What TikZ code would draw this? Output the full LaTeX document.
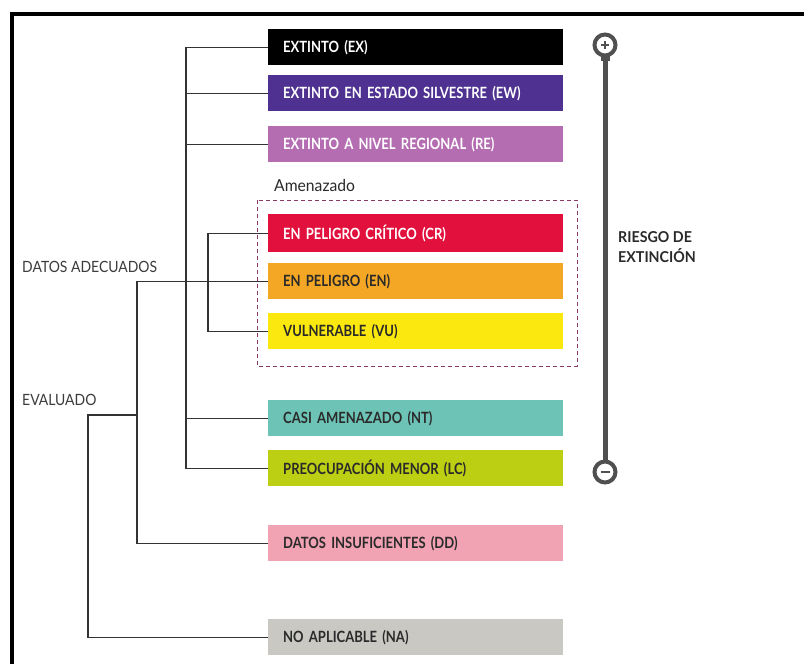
\documentclass[tikz,border=0pt]{standalone}
\usepackage{fontspec}
\setmainfont{Lato}
\newfontfamily\boxfont[FakeStretch=0.84]{Lato Bold}
\newfontfamily\rbfont[FakeStretch=0.95]{Lato Bold}
\newfontfamily\lblfont[FakeStretch=0.9]{Lato}
\newfontfamily\amfont[FakeStretch=0.95]{Lato}
\newcommand\catfontsel{\boxfont\fontsize{15.5}{17}\selectfont\spaceskip=2.6pt plus 1pt minus 1pt\relax}
\definecolor{cEX}{HTML}{000000}
\definecolor{cEW}{HTML}{4E3190}
\definecolor{cRE}{HTML}{B56DB2}
\definecolor{cCR}{HTML}{E2103C}
\definecolor{cEN}{HTML}{F3A724}
\definecolor{cVU}{HTML}{FAE80E}
\definecolor{cNT}{HTML}{6DC4B6}
\definecolor{cLC}{HTML}{BDCF12}
\definecolor{cDD}{HTML}{F2A3B3}
\definecolor{cNA}{HTML}{C9C8C3}
\definecolor{darktxt}{HTML}{2A2A2A}
\definecolor{lbltxt}{HTML}{3C3C3C}
\definecolor{linec}{HTML}{333333}
\definecolor{barc}{HTML}{505050}
\definecolor{dashc}{HTML}{8A3A62}
\tikzset{
  catbox/.style={draw=none, rectangle, anchor=north west, minimum width=295pt,
    minimum height=36pt, inner xsep=15pt, inner ysep=0pt, text width=265pt,
    align=left, font=\catfontsel},
  lightcat/.style={catbox, text=darktxt},
  darkcat/.style={catbox, text=white},
  conn/.style={draw=linec, line width=1.4pt},
  sidelbl/.style={anchor=west, inner sep=0pt, text=lbltxt, font=\lblfont\fontsize{15.5}{17}\selectfont},
}
\begin{document}
\begin{tikzpicture}[x=1pt,y=-1pt]
\useasboundingbox (0,0) rectangle (804,664);
\fill[white] (0,0) rectangle (804,664);
% frame
\draw[line width=4pt] (11.5,664) -- (11.5,13.5) -- (804,13.5);
% category boxes
\node[darkcat, fill=cEX] (ex) at (268,29) {EXTINTO (EX)};
\node[darkcat, fill=cEW] (ew) at (268,75) {EXTINTO EN ESTADO SILVESTRE (EW)};
\node[darkcat, fill=cRE] (re) at (268,126) {EXTINTO A NIVEL REGIONAL (RE)};
\node[darkcat, fill=cCR, minimum height=38pt] (cr) at (268,214) {EN PELIGRO CRÍTICO (CR)};
\node[lightcat, fill=cEN] (en) at (268,263) {EN PELIGRO (EN)};
\node[lightcat, fill=cVU] (vu) at (268,313) {VULNERABLE (VU)};
\node[lightcat, fill=cNT] (nt) at (268,400) {CASI AMENAZADO (NT)};
\node[lightcat, fill=cLC] (lc) at (268,450) {PREOCUPACIÓN MENOR (LC)};
\node[lightcat, fill=cDD] (dd) at (268,525) {DATOS INSUFICIENTES (DD)};
\node[lightcat, fill=cNA] (na) at (268,619) {NO APLICABLE (NA)};
% threatened group
\node[sidelbl, text=darktxt, font=\amfont\fontsize{16.5}{18}\selectfont] (amen) at (274,185) {Amenazado};
\draw[dashc, line width=1pt, dash pattern=on 4pt off 3pt] (257,200) rectangle (577,366);
% side labels
\node[sidelbl] (datos) at (22,267) {DATOS ADECUADOS};
\node[sidelbl] (eval) at (22,400) {EVALUADO};
% tree connectors
\coordinate (bA) at (186,0);
\coordinate (bB) at (208,0);
\coordinate (bC) at (137,0);
\coordinate (bD) at (88,0);
\draw[conn] (ex.west) -| (bA |- lc.west) -- (lc.west);
\draw[conn] (ew.west) -- (bA |- ew.west);
\draw[conn] (re.west) -- (bA |- re.west);
\draw[conn] (nt.west) -- (bA |- nt.west);
\draw[conn] (cr.west) -| (bB |- vu.west) -- (vu.west);
\draw[conn] (en.west) -| (bC |- dd.west) -- (dd.west);
\coordinate (evj) at (137,415);
\draw[conn] (evj) -| (bD |- na.west) -- (na.west);
% risk bar
\draw[barc, line width=5pt] (605,58) -- (605,460);
\fill[barc] (600.5,56) rectangle (609.5,61);
\draw[barc, line width=4pt] (605,45) circle (10.5pt);
\draw[barc, line width=2pt] (601,45) -- (609,45) (605,41) -- (605,49);
\draw[barc, line width=4pt] (605,472) circle (10.5pt);
\draw[barc, line width=2.2pt] (600.5,472) -- (609.5,472);
\node[anchor=north west, inner sep=0pt, align=left, text=darktxt,
  font=\rbfont\fontsize{15}{20}\selectfont] (riesgo) at (618,231) {RIESGO DE\\EXTINCIÓN};
\end{tikzpicture}
\end{document}
